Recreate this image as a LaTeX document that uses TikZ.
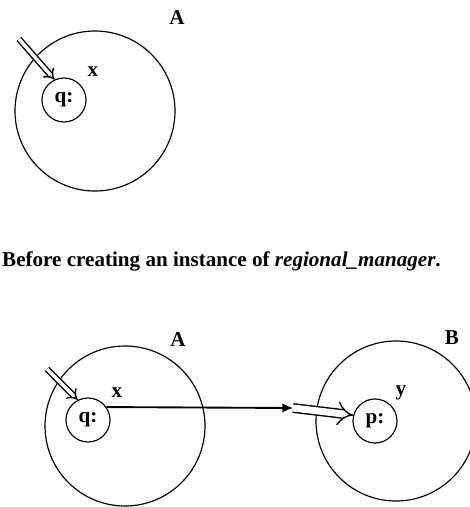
\documentclass[tikz,border=0pt]{standalone}
\usepackage{fontspec}
\setmainfont{Liberation Serif}
\usetikzlibrary{arrows.meta}
\tikzset{
  region/.style={draw,circle,line width=1pt,minimum size=4.8cm,inner sep=0pt},
  proc/.style={draw,circle,line width=1pt,minimum size=1.32cm,inner sep=0pt},
  pass/.style={double,line width=1.2pt,double distance=3pt,-{Implies[scale=1.2]}},
}
\begin{document}
\begin{tikzpicture}[x=0.03cm,y=-0.03cm,every node/.style={font=\fontsize{18}{21}\selectfont\bfseries}]
  \useasboundingbox (0,0) rectangle (469,507);
  % before
  \node[region] (A1) at (95,111) {};
  \node[proc] (q1) at (64,100) {q:};
  \node (lA1) at (177,18) {A};
  \node (lx1) at (93,72) {x};
  \coordinate (in1) at (19,39);
  \draw[pass] (in1) -- (q1.115);
  \node[anchor=base west,inner sep=0pt] (cap) at (2,266)
    {Before creating an instance of \textit{regional\_manager}.};
  % after
  \node[region] (A2) at (125,426) {};
  \node[proc] (q2) at (88,420) {q:};
  \node (lA2) at (178,340) {A};
  \node (lx2) at (117,393) {x};
  \node[region] (B) at (396,421) {};
  \node[proc] (p) at (375,421) {p:};
  \node (lB) at (452,338) {B};
  \node (ly) at (401,393) {y};
  \coordinate (in2) at (47,369);
  \coordinate (mid) at (293,408);
  \draw[pass] (in2) -- (q2.117);
  \draw[line width=1.6pt,-{Latex[length=9pt,width=8pt]}] (q2.35) -- (mid);
  \draw[pass,double distance=6pt] (mid) -- (p.165);
\end{tikzpicture}
\end{document}
